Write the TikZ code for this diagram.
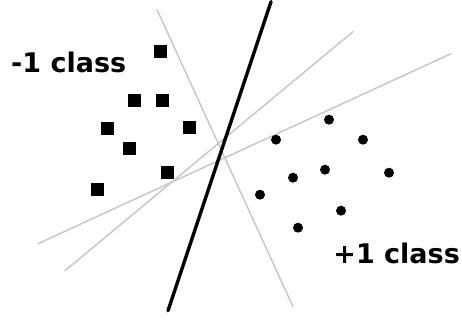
\documentclass[tikz,border=0pt]{standalone}
\usepackage{fontspec}
\setmainfont{DejaVu Sans}
\usetikzlibrary{positioning}
\definecolor{svmGray}{HTML}{C8C8C8}

\begin{document}
\begin{tikzpicture}[x=1pt,y=-1pt,line cap=round,line join=round]
\path[fill=white] (0,0) rectangle (462,322);
\tikzset{negpt/.style={fill=black,minimum size=13pt,inner sep=0pt},pospt/.style={circle,fill=black,minimum size=10pt,inner sep=0pt},margin/.style={draw=svmGray,line width=1.5pt},sepline/.style={draw=black,line width=3.4pt},classlbl/.style={inner sep=0pt,text=black,font=\bfseries\fontsize{27}{30}\selectfont}}
% candidate separating lines
\coordinate (g1a) at (157,8);   \coordinate (g1b) at (293,305);
\coordinate (g2a) at (353,30);  \coordinate (g2b) at (65,269);
\coordinate (g3a) at (451,52);  \coordinate (g3b) at (38,242);
\draw[margin] (g1a) -- (g1b);
\draw[margin] (g2a) -- (g2b);
\draw[margin] (g3a) -- (g3b);
% chosen hyperplane
\coordinate (hTop) at (271,0); \coordinate (hBot) at (168,309);
\draw[sepline] (hTop) -- (hBot);
% -1 class
\node[negpt] (n1) at (160,50) {};
\node[negpt] (n2) at (134,99) {};
\node[negpt] (n3) at (162,99) {};
\node[negpt] (n4) at (107,127) {};
\node[negpt] (n5) at (189,126) {};
\node[negpt] (n6) at (129,147) {};
\node[negpt] (n7) at (167,171) {};
\node[negpt] (n8) at (97,188) {};
% +1 class
\node[pospt] (p1) at (329,118) {};
\node[pospt] (p2) at (276,138) {};
\node[pospt] (p3) at (363,138) {};
\node[pospt] (p4) at (325,168) {};
\node[pospt] (p5) at (293,176) {};
\node[pospt] (p6) at (389,171) {};
\node[pospt] (p7) at (260,193) {};
\node[pospt] (p8) at (341,209) {};
\node[pospt] (p9) at (298,226) {};
\node[classlbl,anchor=west] (negLbl) at (11,61) {-1 class};
\node[classlbl,anchor=east] (posLbl) at (460,252) {+1 class};
\end{tikzpicture}
\end{document}
